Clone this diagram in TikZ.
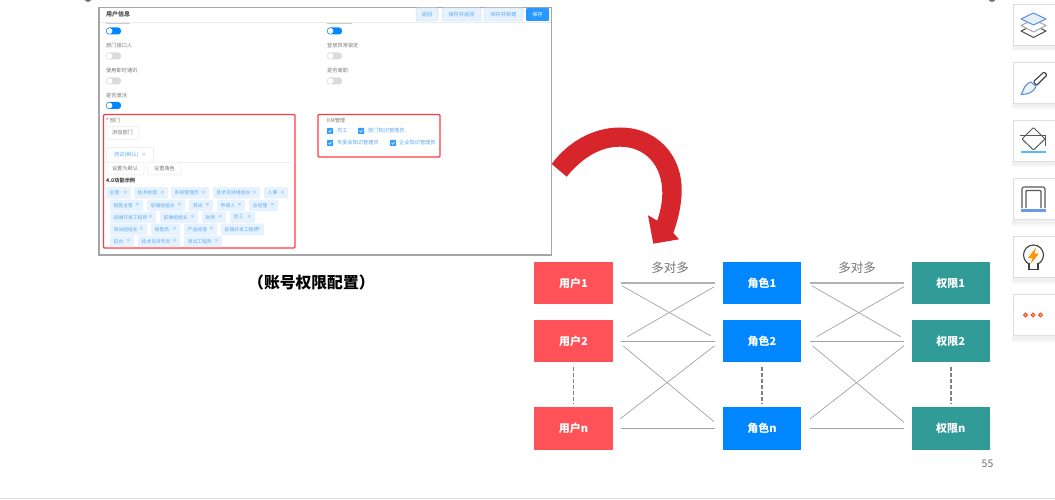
\documentclass[tikz,border=0pt]{standalone}
\usepackage{fontspec}
\setmainfont{Noto Sans CJK SC}
\usetikzlibrary{calc}
\definecolor{uired}{HTML}{FF5258}
\definecolor{uiblue}{HTML}{0086FF}
\definecolor{uiteal}{HTML}{319B98}
\definecolor{wgrey}{HTML}{A6A6A6}
\definecolor{frred}{HTML}{FF3B40}
\definecolor{tagbg}{HTML}{E6F3FF}
\definecolor{tagfg}{HTML}{5FA9F0}
\definecolor{btnbd}{HTML}{EEEEEE}
\definecolor{lbl}{HTML}{7A7A7A}
\definecolor{arrowred}{HTML}{D7262B}
\definecolor{linkc}{HTML}{A3A3A3}
\definecolor{iconblue}{HTML}{5B8FE0}
\definecolor{barblue}{HTML}{5BB8F0}
\definecolor{archblue}{HTML}{6A9AE5}
\tikzset{
 x=1pt,y=-1pt,
 bigbox/.style={fill=#1,draw=none,minimum width=78.4pt,minimum height=42.2pt,inner sep=0pt,text=white,font=\fontsize{11}{11}\selectfont\bfseries},
 link/.style={draw=linkc,line width=0.7pt},
 mainlink/.style={draw=linkc,line width=1pt},
 dashlink/.style={draw=black!50,line width=1.5pt,dash pattern=on 4pt off 2pt},
 many/.style={text=black!55,font=\fontsize{12.5}{12.5}\selectfont,inner sep=0pt},
 uilabel/.style={text=lbl,anchor=west,inner sep=0pt,font=\fontsize{5.2}{5.2}\selectfont},
 tagtext/.style={text=tagfg,inner sep=0pt,font=\fontsize{4.8}{4.8}\selectfont},
 frame/.style={draw=frred,line width=1.2pt,rounded corners=1pt},
 card/.style={fill=white,draw=black!13,line width=0.7pt},
 ubtn/.style={fill=white,draw=btnbd,line width=0.6pt,rounded corners=1pt,text=lbl,inner sep=0pt,font=\fontsize{5.2}{5.2}\selectfont},
 topbtn/.style={fill=tagbg,draw=tagfg!35,line width=0.5pt,rounded corners=1pt,text=tagfg,inner sep=0pt,font=\fontsize{5.2}{5.2}\selectfont},
 iconline/.style={draw=black!70,line width=0.8pt,line join=round},
}
% x0 x1 y0 y1 label
\newcommand{\mytag}[5]{\fill[tagbg,rounded corners=1pt] (#1,#3) rectangle (#2,#4);
 \node[tagtext,anchor=west] at (#1+3.5,{(#3+#4)/2}) {#5};
 \node[tagtext,anchor=east] at (#2-3,{(#3+#4)/2}) {×};}
\newcommand{\mytoggle}[3]{% x y on
 \fill[#3,rounded corners=3pt] (#1,#2-3.5) rectangle (#1+15,#2+3.5);
 \ifx#3uiblue \fill[white] (#1+11,#2) circle (2.6); \else \fill[white] (#1+3.5,#2) circle (2.9); \fi}
\newcommand{\mycheck}[2]{\fill[uiblue!80,rounded corners=0.5pt] (#1,#2-3) rectangle (#1+6,#2+3);
 \draw[white,line width=0.5pt] (#1+1.5,#2) -- (#1+2.7,#2+1.2) -- (#1+4.6,#2-1.3);}
\newcommand{\mycard}[2]{\fill[black!6] (#1-2,#2+41) rectangle (1055,#2+45);
 \fill[black!3] (#1-3,#2+45) rectangle (1055,#2+47);
 \draw[card] (#1,#2) rectangle (1056,#2+41);}
\colorlet{toff}{black!14}
\begin{document}
\begin{tikzpicture}
\useasboundingbox (0,0) rectangle (1055,500);
\fill[white] (0,0) rectangle (1055,500);
% stray page decorations
\fill[black!55] (88,-1.5) circle (3.5);
\fill[black!55] (992,-2) circle (4);
\draw[black!13,line width=1.2pt] (0,498.5) -- (1055,498.5);

% --- screenshot window
\draw[wgrey,line width=1.6pt,fill=white] (99,7.5) rectangle (551.5,255);
\node[anchor=west,inner sep=0pt,text=black!70,font=\fontsize{6}{6}\selectfont\bfseries] (title) at (106,14.5) {用户信息};
\draw[black!8,line width=0.5pt] (100,22.5) -- (551,22.5);
\fill[black!20] (106,23) rectangle (130,24);
\fill[black!20] (327,23) rectangle (352,24);
\node[topbtn,minimum width=22pt,minimum height=13pt] at (427,14.5) {返回};
\node[topbtn,minimum width=39pt,minimum height=13pt] at (461.5,14.5) {保存并返回};
\node[topbtn,minimum width=39pt,minimum height=13pt] at (503.5,14.5) {保存并新建};
\node[fill=uiblue!85,rounded corners=1pt,text=white,inner sep=0pt,minimum width=23pt,minimum height=13pt,font=\fontsize{5.2}{5.2}\selectfont] at (537.5,14.5) {保存};

\mytoggle{106}{31}{uiblue}
\node[uilabel] at (106,46) {部门接口人};
\mytoggle{106}{56}{toff}
\node[uilabel] at (106,71) {使用即时通讯};
\mytoggle{106}{81}{toff}
\node[uilabel] at (106,96) {是否激活};
\mytoggle{106}{105.5}{uiblue}
\mytoggle{327}{31}{uiblue}
\node[uilabel] at (327,46) {登录异常锁定};
\mytoggle{327}{56}{toff}
\node[uilabel] at (327,71) {是否离职};
\mytoggle{327}{81}{toff}

% department frame
\draw[frame] (103.5,114.5) rectangle (295,248);
\node[uilabel] at (106,120.5) {\textcolor{red}{*} 部门};
\node[ubtn,minimum width=33pt,minimum height=12.5pt] at (122.5,133) {添加部门};
\draw[btnbd,line width=0.6pt] (106,162.5) -- (106,147.5) -- (153,147.5) -- (153,162.5);
\draw[btnbd,line width=0.6pt] (153,162.5) -- (291,162.5);
\node[tagtext,anchor=west,font=\fontsize{5.2}{5.2}\selectfont] at (114,154.5) {测试(默认)};
\node[tagtext,anchor=west] at (141.5,155) {×};
\node[ubtn,minimum width=38pt,minimum height=12.5pt] at (125,168.5) {设置为默认};
\node[ubtn,minimum width=33pt,minimum height=12.5pt] at (164.5,168.5) {设置角色};
\node[uilabel,text=black!75,font=\fontsize{5.2}{5.2}\selectfont\bfseries] at (106,181) {4.0功能示例};

\mytag{106}{131}{187}{198.5}{主管}
\mytag{134}{168}{187}{198.5}{技术经理}
\mytag{171}{209}{187}{198.5}{系统管理员}
\mytag{213}{260}{187}{198.5}{技术支持组组长}
\mytag{264}{288}{187}{198.5}{人事}
\mytag{110}{143}{199.5}{211}{销售主管}
\mytag{147}{185}{199.5}{211}{后端组组长}
\mytag{189}{213}{199.5}{211}{测试}
\mytag{217}{245}{199.5}{211}{申请人}
\mytag{249}{278}{199.5}{211}{总经理}
\mytag{110}{156}{211.5}{223}{后端开发工程师}
\mytag{160}{198}{211.5}{223}{前端组组长}
\mytag{202}{226}{211.5}{223}{财务}
\mytag{230}{255}{211.5}{223}{员工}
\mytag{110}{147}{223.5}{235}{测试组组长}
\mytag{151}{180}{223.5}{235}{销售员}
\mytag{184}{217}{223.5}{235}{产品经理}
\mytag{221}{264}{223.5}{235}{前端开发工程师}
\mytag{110}{134}{235.5}{247}{前台}
\mytag{138}{180}{235.5}{247}{技术支持专员}
\mytag{184}{222}{235.5}{247}{测试工程师}

% KM frame
\draw[frame] (318,114.5) rectangle (440,157);
\node[uilabel] at (327,120.5) {KM管理};
\mycheck{327}{131}
\node[uilabel,text=tagfg] at (337,131) {员工};
\mycheck{358}{131}
\node[uilabel,text=tagfg] at (368,131) {部门知识管理员};
\mycheck{327}{143}
\node[uilabel,text=tagfg] at (337,143) {专委会知识管理员};
\mycheck{390}{143}
\node[uilabel,text=tagfg] at (399,143) {企业知识管理员};

\node[text=black,inner sep=0pt,anchor=west,font=\fontsize{15.8}{15.8}\selectfont\bfseries] (caption) at (248,282.5) {（账号权限配置）};

% --- big red arrow
\fill[arrowred] (551.7,164) .. controls (567,143) and (592,127.5) .. (620,127.5)
 .. controls (657,127.5) and (681.7,155) .. (681.7,190)
 .. controls (681.7,205) and (678,220) .. (673.3,233)
 -- (679,239.3) -- (653.3,243.7) -- (648,215.3) -- (657.3,220.7)
 .. controls (660,212) and (662.3,203) .. (662.3,193)
 .. controls (662.3,165) and (645,146.7) .. (620,146.7)
 .. controls (600,146.7) and (582,158) .. (566.7,176.7) -- cycle;

% --- model boxes
\node[bigbox=uired]  (u1) at (573.5,283) {用户1};
\node[bigbox=uired]  (u2) at (573.5,341.3) {用户2};
\node[bigbox=uired]  (un) at (573.5,428.5) {用户n};
\node[bigbox=uiblue] (r1) at (762,283) {角色1};
\node[bigbox=uiblue] (r2) at (762,341.3) {角色2};
\node[bigbox=uiblue] (rn) at (762,428.5) {角色n};
\node[bigbox=uiteal] (p1) at (950.8,283) {权限1};
\node[bigbox=uiteal] (p2) at (950.8,341.3) {权限2};
\node[bigbox=uiteal] (pn) at (950.8,428.5) {权限n};
\node[many] (m1) at (670,268) {多对多};
\node[many] (m2) at (857,268) {多对多};
\node[text=black!55,inner sep=0pt,font=\fontsize{10.5}{10.5}\selectfont] (pg) at (987.5,464) {55};

% free ends of the many-to-many links
\coordinate (a1) at (621,283);   \coordinate (b1) at (715,283);
\coordinate (a2) at (621,341.5); \coordinate (b2) at (715,341.5);
\coordinate (a3) at (621,428.5); \coordinate (b3) at (715,428.5);
\coordinate (c1) at (622.3,286); \coordinate (c2) at (711,336);
\coordinate (c3) at (714.3,286.7); \coordinate (c4) at (627.3,336.7);
\coordinate (c5) at (623.3,346); \coordinate (c6) at (714,421.7);
\coordinate (c7) at (714.3,346); \coordinate (c8) at (620.3,418.7);
\coordinate (d1) at (810.3,283);   \coordinate (e1) at (904,283);
\coordinate (d2) at (810.3,341.5); \coordinate (e2) at (904,341.5);
\coordinate (d3) at (810.3,428.5); \coordinate (e3) at (904,428.5);
\coordinate (f1) at (811.7,285.7); \coordinate (f2) at (900.7,336.7);
\coordinate (f3) at (904,286.7);   \coordinate (f4) at (816.7,336.7);
\coordinate (f5) at (812.7,346);   \coordinate (f6) at (904,422.3);
\coordinate (f7) at (904,345.7);   \coordinate (f8) at (810,419);
\draw[mainlink,line width=1.3pt,draw=linkc!85] (a1) -- (b1);
\draw[mainlink] (a2) -- (b2);
\draw[mainlink] (a3) -- (b3);
\draw[link] (c1) -- (c2);
\draw[link] (c3) -- (c4);
\draw[link] (c5) -- (c6);
\draw[link] (c7) -- (c8);
\draw[mainlink,line width=1.3pt,draw=linkc!85] (d1) -- (e1);
\draw[mainlink] (d2) -- (e2);
\draw[mainlink] (d3) -- (e3);
\draw[link] (f1) -- (f2);
\draw[link] (f3) -- (f4);
\draw[link] (f5) -- (f6);
\draw[link] (f7) -- (f8);
\draw[dashlink,shorten >=4pt,shorten <=4.5pt] (u2) -- (un);
\draw[dashlink,shorten >=4pt,shorten <=4.5pt] (r2) -- (rn);
\draw[dashlink,shorten >=4pt,shorten <=4.5pt] (p2) -- (pn);

% --- right toolbar
\mycard{1013.5}{4.5}
\mycard{1013.5}{62.5}
\mycard{1013.5}{120.5}
\mycard{1013.5}{178.5}
\mycard{1013.5}{236.5}
\mycard{1013.5}{294.5}
% layers
\draw[iconline,line width=1pt] (1021,31) -- (1033.5,25) -- (1046,31) -- (1033.5,37.5) -- cycle;
\draw[black!35,line width=1pt,fill=white,line join=round] (1021,25.5) -- (1033.5,19.5) -- (1046,25.5) -- (1033.5,32) -- cycle;
\draw[draw=iconblue,fill=iconblue!15,line width=1pt,line join=round] (1021,19) -- (1033.5,13) -- (1046,19) -- (1033.5,25) -- cycle;
% brush
\draw[black!75,line width=1.1pt,rounded corners=1pt] (1033.5,81.5) -- (1044,72) -- (1047,75) -- (1036.5,85.5) -- cycle;
\draw[iconblue,line width=1.1pt,fill=iconblue!10,line join=round] (1021,94.5) .. controls (1024,90) and (1024,84) .. (1031,82) -- (1036,86.5) .. controls (1034,92) and (1028,94.5) .. (1021,94.5) -- cycle;
% bucket
\draw[black!65,line width=1pt,rounded corners=1pt] (1033.5,127.5) -- (1045,139) -- (1033.5,150) -- (1022,139) -- cycle;
\draw[black!65,line width=0.9pt] (1020,135) -- (1045,135) -- (1045,146);
\draw[barblue,line width=2.6pt] (1021,152) -- (1046,152);
% arch
\draw[black!65,line width=1.1pt,rounded corners=2pt] (1022,208) -- (1022,187) -- (1045,187) -- (1045,208);
\draw[black!65,line width=1.1pt,rounded corners=1pt] (1026,208) -- (1026,190.5) -- (1041,190.5) -- (1041,208);
\draw[archblue,line width=2.8pt] (1021,210.5) -- (1046,210.5);
% bulb
\draw[black!75,line width=1.1pt,fill=white] (1033.5,255) circle (10);
\draw[black!75,line width=1.1pt,fill=white] (1029,264) rectangle (1038,269.5);
\fill[white] (1029.6,262) rectangle (1037.4,265);
\fill[orange!85!yellow] (1036,247.5) -- (1028,258) -- (1032.5,258) -- (1030.5,264) -- (1039,253.5) -- (1034.5,253.5) -- cycle;
% dots
\foreach \dx in {1025.5,1033,1040.5}{\draw[orange!40!red!90,line width=1.1pt,fill=orange!35] (\dx,315) circle (1.8);}
\end{tikzpicture}
\end{document}
